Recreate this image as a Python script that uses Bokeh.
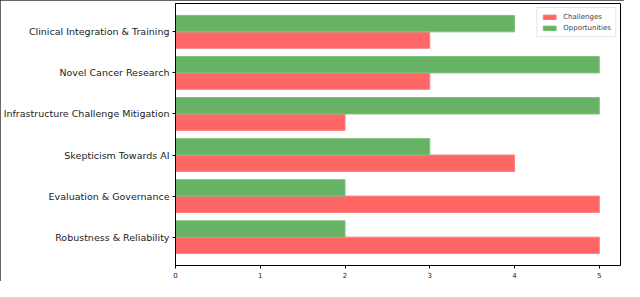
from bokeh.plotting import figure
from bokeh.models import Range1d, FixedTicker, Legend, LegendItem, ColumnDataSource
from bokeh.transform import dodge
from bokeh.embed import file_html
from bokeh.resources import INLINE

categories = ["Robustness & Reliability", "Evaluation & Governance", "Skepticism Towards AI",
              "Infrastructure Challenge Mitigation", "Novel Cancer Research",
              "Clinical Integration & Training"]
challenges = [5, 5, 4, 2, 3, 3]
opportunities = [2, 2, 3, 5, 5, 4]
x_ticks = [0, 1, 2, 3, 4, 5]

idx = list(range(len(categories)))
src = ColumnDataSource(dict(idx=idx, ch=challenges, op=opportunities))

FONT = "DejaVu Sans"
W, H = 624, 281
p = figure(width=W, height=H, output_backend="svg", toolbar_location=None,
           x_range=Range1d(0, 5.25), y_range=Range1d(-0.69, 5.69),
           min_border_left=173, min_border_right=4, min_border_top=3, min_border_bottom=16)
p.styles = {"outline": "2px solid #333333", "outline-offset": "-2px"}
p.grid.visible = False
p.outline_line_color = "black"
p.outline_line_width = 1

r_ch = p.hbar(y=dodge("idx", -0.2, range=p.y_range), right="ch", left=0, height=0.4,
              source=src, fill_color="#ff6666", line_color="#ff8080", line_width=1)
r_op = p.hbar(y=dodge("idx", 0.2, range=p.y_range), right="op", left=0, height=0.4,
              source=src, fill_color="#66b366", line_color="#80c080", line_width=1)

p.xaxis.ticker = FixedTicker(ticks=x_ticks)
p.yaxis.ticker = FixedTicker(ticks=idx)
p.yaxis.major_label_overrides = {i: c for i, c in zip(idx, categories)}
for ax in (p.xaxis, p.yaxis):
    ax.axis_line_color = "black"
    ax.major_tick_line_color = "black"
    ax.major_tick_in = 0
    ax.major_tick_out = 3
    ax.minor_tick_line_color = None
    ax.major_label_text_font = FONT
    ax.major_label_text_color = "#222222"
p.xaxis.major_label_text_font_size = "7px"
p.yaxis.major_label_text_font_size = "9.5px"
p.xaxis.major_label_standoff = 3
p.yaxis.major_label_standoff = 3

legend = Legend(items=[LegendItem(label="Challenges", renderers=[r_ch]),
                       LegendItem(label="Opportunities", renderers=[r_op])],
                location="top_right", label_text_font=FONT, label_text_font_size="7px",
                glyph_width=16, glyph_height=6, label_height=9, spacing=2,
                padding=4, margin=4, border_line_color="#cccccc",
                label_standoff=6, background_fill_alpha=0.8)
p.add_layout(legend)

open("out.html", "w").write(file_html(p, INLINE))
